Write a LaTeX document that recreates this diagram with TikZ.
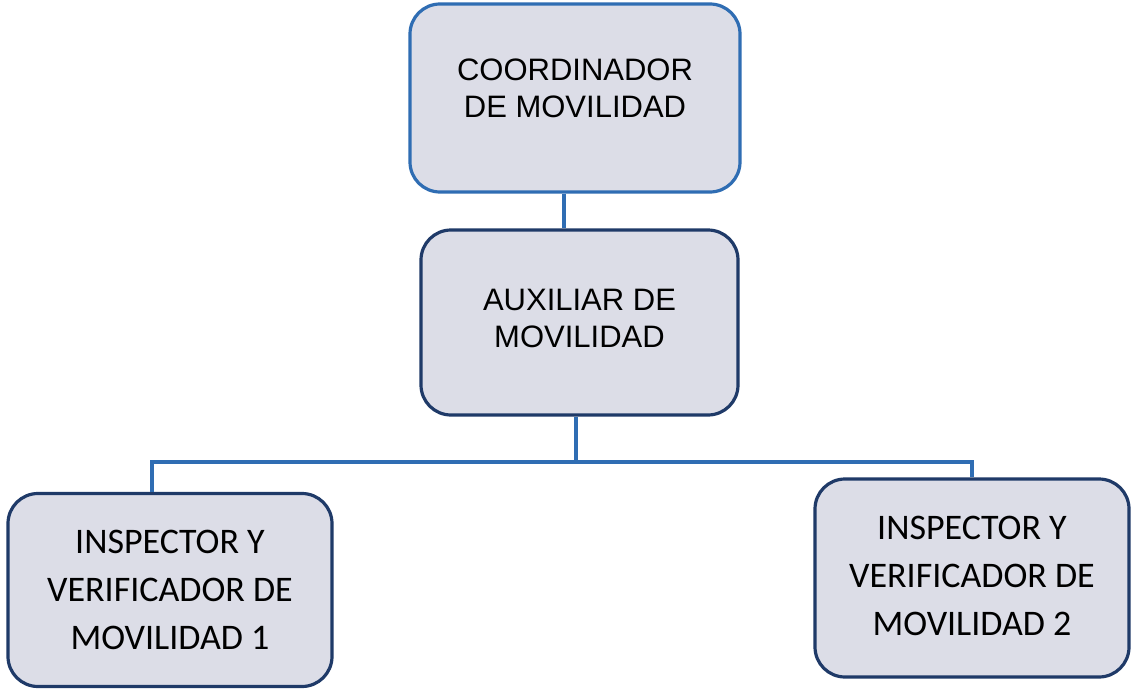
\documentclass[tikz,border=0pt]{standalone}
\usepackage{fontspec}
\setmainfont{Liberation Sans}
\newfontfamily\calib{Carlito}
\definecolor{boxfill}{HTML}{DCDDE7}
\definecolor{blueline}{HTML}{2F6DB3}
\definecolor{navyline}{HTML}{1F3A68}
\tikzset{
  box/.style={draw, line width=3.2pt, fill=boxfill, rounded corners=30pt, align=center, inner sep=0pt},
  topbox/.style={box, font=\fontsize{31}{37}\selectfont},
  lowbox/.style={box, font=\calib\fontsize{36}{48}\selectfont},
  conn/.style={draw=blueline, line width=3.2pt}
}
\begin{document}
\begin{tikzpicture}[x=1pt,y=-1pt]
\useasboundingbox[fill=white] (0,0) rectangle (1132,688);
\node[topbox, draw=blueline, minimum width=330pt, minimum height=188pt, text depth=20pt] (coord) at (575,98) {COORDINADOR\\DE MOVILIDAD};
\node[topbox, draw=navyline, minimum width=317pt, minimum height=185pt, text depth=8pt] (aux) at (579.5,322.5) {AUXILIAR DE\\MOVILIDAD};
\node[lowbox, draw=navyline, minimum width=324pt, minimum height=193pt] (insp1) at (170,590) {INSPECTOR Y\\VERIFICADOR DE\\MOVILIDAD 1};
\node[lowbox, draw=navyline, minimum width=314pt, minimum height=198pt, text depth=5pt] (insp2) at (972,578) {INSPECTOR Y\\VERIFICADOR DE\\MOVILIDAD 2};
\coordinate (bus) at (576,462);
\draw[conn] (coord.south -| 564,0) -- (aux.north -| 564,0);
\draw[conn] (aux.south -| bus) -- (bus);
\draw[conn] (insp1.north -| 152,0) -- (152,462) -- (972,462) -- (insp2.north -| 972,0);
\end{tikzpicture}
\end{document}
